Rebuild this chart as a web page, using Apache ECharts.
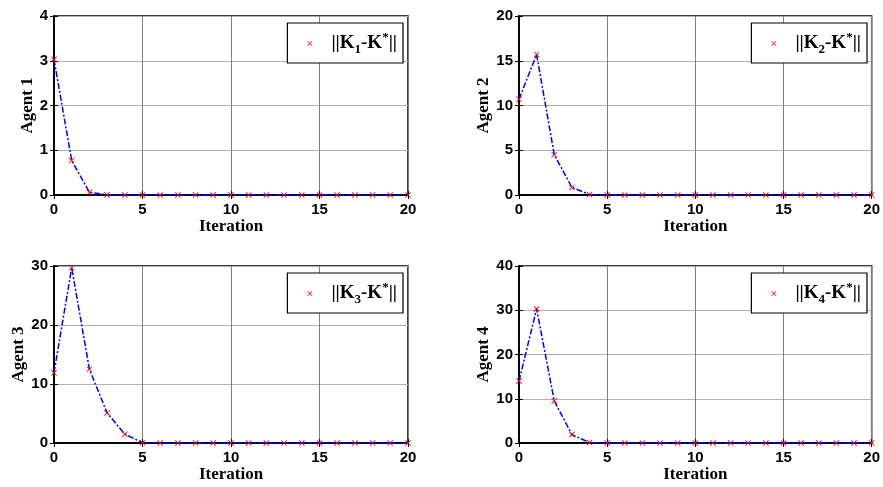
<!DOCTYPE html>
<html>
<head>
<meta charset="utf-8">
<script src="https://cdn.jsdelivr.net/npm/echarts@6/dist/echarts.min.js"></script>
<style>
  html, body { margin: 0; padding: 0; background: #fff; }
  #chart { width: 883px; height: 487px; }
</style>
</head>
<body>
<div id="chart"></div>
<script>
// Iteration index 0..20
const iterations = Array.from({ length: 21 }, (_, i) => i);

// ||K_i - K*|| per agent over the iterations
const agent1 = [3.03, 0.77, 0.06, 0.005, 0, 0, 0, 0, 0, 0, 0, 0, 0, 0, 0, 0, 0, 0, 0, 0, 0];
const agent2 = [10.7, 15.7, 4.5, 0.85, 0.05, 0, 0, 0, 0, 0, 0, 0, 0, 0, 0, 0, 0, 0, 0, 0, 0];
const agent3 = [11.9, 29.7, 12.5, 5.1, 1.5, 0.05, 0, 0, 0, 0, 0, 0, 0, 0, 0, 0, 0, 0, 0, 0, 0];
const agent4 = [14.0, 30.3, 9.5, 1.9, 0.1, 0, 0, 0, 0, 0, 0, 0, 0, 0, 0, 0, 0, 0, 0, 0, 0];

const agentData = [agent1, agent2, agent3, agent4];
const agentNames = ['Agent 1', 'Agent 2', 'Agent 3', 'Agent 4'];
const yMax = [4, 20, 30, 40];
const yStep = [1, 5, 10, 10];
const nameGaps = [15, 22, 22, 22];

// panel boxes in pixels
const boxes = [
  { left: 54, top: 16, width: 354, height: 179 },
  { left: 519, top: 16, width: 353, height: 179 },
  { left: 54, top: 266, width: 354, height: 177 },
  { left: 519, top: 266, width: 353, height: 177 }
];

const crossPath = 'path://M0,1 L1,0 L5,4 L9,0 L10,1 L6,5 L10,9 L9,10 L5,6 L1,10 L0,9 L4,5 Z';
const serif = '"Liberation Serif", "Times New Roman", serif';
const sans = '"Liberation Sans", Arial, sans-serif';

const grids = [], xAxes = [], yAxes = [], series = [], legends = [];

boxes.forEach((b, i) => {
  grids.push({ left: b.left, top: b.top, width: b.width, height: b.height,
    show: true, borderColor: '#000', borderWidth: 1.5, backgroundColor: '#fff' });

  // bottom x axis with labels and grid lines
  xAxes.push({
    type: 'value', gridIndex: i, min: 0, max: 20, interval: 5,
    name: 'Iteration', nameLocation: 'middle', nameGap: 21,
    nameTextStyle: { fontFamily: serif, fontWeight: 'bold', fontSize: 17, color: '#000' },
    axisLine: { lineStyle: { color: '#000', width: 1.5 } },
    axisTick: { inside: true, length: 4, lineStyle: { color: '#000' } },
    axisLabel: { fontFamily: sans, fontWeight: 'bold', fontSize: 15, color: '#000', margin: 7 },
    splitLine: { show: true, lineStyle: { color: '#808080', width: 1 } }
  });
  // top x axis: ticks only
  xAxes.push({
    type: 'value', gridIndex: i, min: 0, max: 20, interval: 5, position: 'top',
    axisLine: { show: true, lineStyle: { color: '#000', width: 1.5 } },
    axisTick: { show: true, inside: true, length: 4, lineStyle: { color: '#000' } },
    axisLabel: { show: false }, splitLine: { show: false }
  });

  yAxes.push({
    type: 'value', gridIndex: i, min: 0, max: yMax[i], interval: yStep[i],
    name: agentNames[i], nameLocation: 'middle', nameGap: nameGaps[i], nameRotate: 90,
    nameTextStyle: { fontFamily: serif, fontWeight: 'bold', fontSize: 17, color: '#000' },
    axisLine: { show: true, lineStyle: { color: '#000', width: 1.5 } },
    axisTick: { show: true, inside: true, length: 4, lineStyle: { color: '#000' } },
    axisLabel: { fontFamily: sans, fontWeight: 'bold', fontSize: 15, color: '#000', margin: 6 },
    splitLine: { show: true, lineStyle: { color: '#b0b0b0', width: 1.2 } }
  });
  yAxes.push({
    type: 'value', gridIndex: i, min: 0, max: yMax[i], interval: yStep[i], position: 'right',
    axisLine: { show: true, lineStyle: { color: '#000', width: 1.5 } },
    axisTick: { show: true, inside: true, length: 4, lineStyle: { color: '#000' } },
    axisLabel: { show: false }, splitLine: { show: false }
  });

  const sName = 'K' + (i + 1);
  series.push({
    name: sName, type: 'line', xAxisIndex: i * 2, yAxisIndex: i * 2,
    data: iterations.map((x, k) => [x, agentData[i][k]]),
    symbol: crossPath, symbolSize: 6, showSymbol: true,
    itemStyle: { color: '#ff0000' },
    lineStyle: { color: '#0000ff', width: 1.5, type: [6, 2, 2, 2] },
    animation: false, clip: false, z: 5
  });

  legends.push({
    data: [{ name: sName, icon: crossPath }],
    right: 883 - (b.left + b.width) + 5,
    top: b.top + 7,
    orient: 'vertical',
    backgroundColor: '#fff', borderColor: '#000', borderWidth: 1.2,
    padding: [8, 6, 7, 20],
    itemWidth: 5, itemHeight: 5, itemGap: 0,
    formatter: () => '{b|||K}{s|' + (i + 1) + '}{b|-K}{p|*}{b|||}',
    textStyle: {
      color: '#000', padding: [0, 0, 0, 14],
      rich: {
        b: { fontFamily: serif, fontWeight: 'bold', fontSize: 19, color: '#000', lineHeight: 26 },
        s: { fontFamily: serif, fontWeight: 'bold', fontSize: 13, color: '#000', padding: [12, 0, 0, 0] },
        p: { fontFamily: serif, fontWeight: 'bold', fontSize: 13, color: '#000', padding: [0, 0, 12, 0] }
      }
    },
    selectedMode: false
  });
});

const chart = echarts.init(document.getElementById('chart'), null, { renderer: 'canvas' });
chart.setOption({
  animation: false,
  backgroundColor: '#fff',
  grid: grids,
  xAxis: xAxes,
  yAxis: yAxes,
  series: series,
  legend: legends
});
</script>
</body>
</html>
